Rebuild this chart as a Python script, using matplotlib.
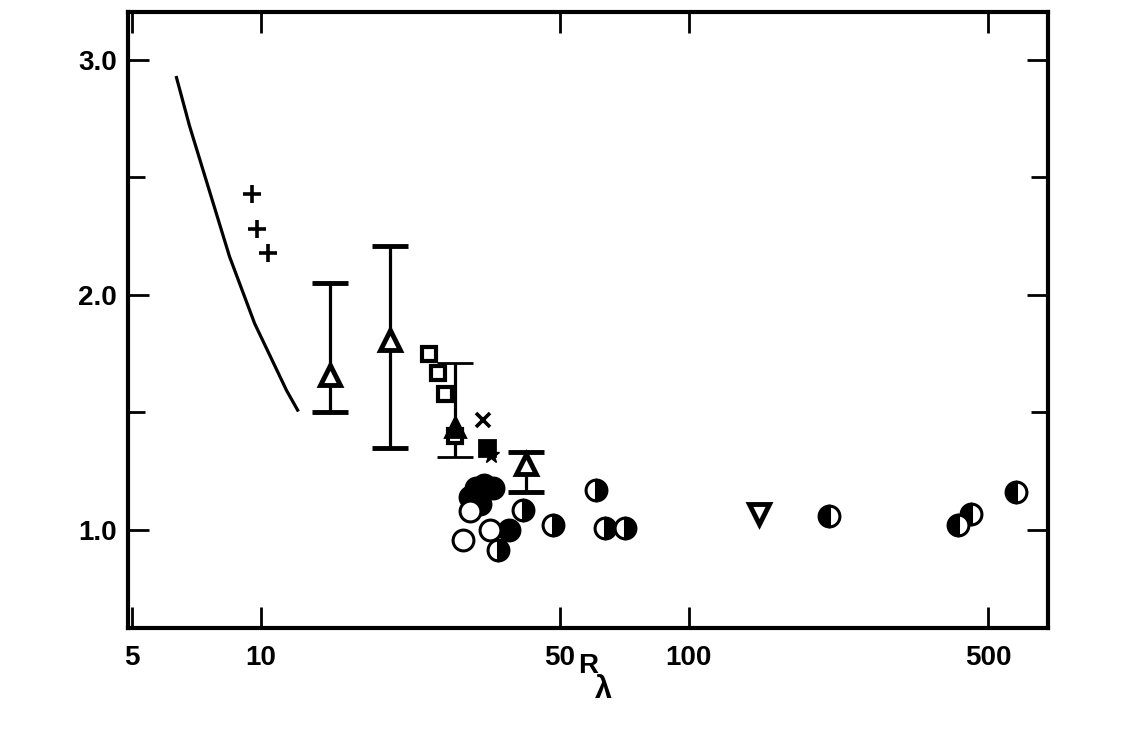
import matplotlib
matplotlib.use("Agg")
import matplotlib.pyplot as plt
from matplotlib.ticker import NullLocator

plt.rcParams['font.family'] = ['Liberation Sans', 'DejaVu Sans']
plt.rcParams['font.weight'] = 'bold'

# ---- data ----
curve_x = [6.36, 6.82, 7.60, 8.46, 9.68, 11.5, 12.2]
curve_y = [2.925, 2.72, 2.44, 2.163, 1.879, 1.593, 1.51]

plus_x = [9.53, 9.79, 10.38]
plus_y = [2.43, 2.28, 2.18]

tri_err_x = [14.5, 20.1, 41.6]
tri_err_y = [1.66, 1.81, 1.28]
tri_err_lo = [1.50, 1.35, 1.16]
tri_err_hi = [2.05, 2.21, 1.33]

tri_fill_x = [28.4]
tri_fill_y = [1.44]
tri_fill_lo = [1.31]
tri_fill_hi = [1.71]

square_x = [24.7, 25.9, 27.0, 28.4]
square_y = [1.75, 1.67, 1.58, 1.40]

cross_x = [33.0]
cross_y = [1.47]

fsquare_x = [33.7]
fsquare_y = [1.35]

star_x = [34.6]
star_y = [1.32]

filled_x = [30.8, 31.8, 33.3, 34.8, 32.6, 38.1]
filled_y = [1.14, 1.18, 1.19, 1.18, 1.11, 1.00]

open_x = [29.7, 34.3, 30.8]
open_y = [0.957, 1.00, 1.08]

halfR_x = [35.8, 41.0, 48.3, 60.6, 63.6, 70.8]
halfR_y = [0.913, 1.087, 1.02, 1.17, 1.01, 1.01]

halfL_x = [212, 425, 455, 581]
halfL_y = [1.06, 1.02, 1.07, 1.16]

down_x = [146]
down_y = [1.07]

x_ticks = [5, 10, 50, 100, 500]
x_ticklabels = ['5', '10', '50', '100', '500']
y_ticks = [1.0, 2.0, 3.0]
y_ticklabels = ['1.0', '2.0', '3.0']
y_minor = [1.5, 2.5]

# ---- figure ----
fig = plt.figure(figsize=(11.36, 7.39), dpi=100)
ax = fig.add_axes([128/1136, 1-628/739, 920/1136, 616/739])
ax.set_xscale('log')
ax.set_xlim(4.9, 690)
ax.set_ylim(0.583, 3.204)

ax.plot(curve_x, curve_y, '-', color='black', lw=2.3, solid_joinstyle='round')

ax.plot(plus_x, plus_y, '+', ls='none', color='black', ms=13, mew=2.6)

def err(y, lo, hi):
    return [[yy - l for yy, l in zip(y, lo)], [h - yy for yy, h in zip(y, hi)]]

ax.errorbar(tri_err_x, tri_err_y, yerr=err(tri_err_y, tri_err_lo, tri_err_hi),
            fmt='^', ms=15, mfc='white', mec='black', mew=3.5, color='black',
            ecolor='black', elinewidth=2.3, capsize=13, capthick=2.3)
ax.errorbar(tri_fill_x, tri_fill_y, yerr=err(tri_fill_y, tri_fill_lo, tri_fill_hi),
            fmt='^', ms=14, mfc='black', mec='black', mew=2, color='black',
            ecolor='black', elinewidth=2.3, capsize=13, capthick=2.3)

ax.plot(square_x, square_y, 's', ls='none', ms=10, mfc='white', mec='black', mew=3)
ax.plot(cross_x, cross_y, 'x', ls='none', ms=10, color='black', mew=2.6)
ax.plot(fsquare_x, fsquare_y, 's', ls='none', ms=12, mfc='black', mec='black', mew=2)
ax.plot(star_x, star_y, '*', ls='none', ms=12, color='black')

ax.plot(filled_x, filled_y, 'o', ls='none', ms=15, mfc='black', mec='black', mew=2.2)
ax.plot(open_x, open_y, 'o', ls='none', ms=15, mfc='white', mec='black', mew=2.2)
ax.plot(halfR_x, halfR_y, 'o', ls='none', ms=15, fillstyle='right',
        mfc='black', mfcalt='white', mec='black', mew=2.2)
ax.plot(halfL_x, halfL_y, 'o', ls='none', ms=15, fillstyle='left',
        mfc='black', mfcalt='white', mec='black', mew=2.2)
ax.plot(down_x, down_y, 'v', ls='none', ms=15, mfc='white', mec='black', mew=3.5)

# ---- axes styling ----
ax.set_xticks(x_ticks)
ax.set_xticklabels(x_ticklabels)
ax.xaxis.set_minor_locator(NullLocator())
ax.set_yticks(y_ticks)
ax.set_yticklabels(y_ticklabels)
ax.set_yticks(y_minor, minor=True)

for s in ax.spines.values():
    s.set_linewidth(3)
ax.tick_params(which='both', direction='in', top=True, right=True, width=2,
               labelsize=20, colors='black')
ax.tick_params(which='major', length=15)
ax.tick_params(which='minor', length=12)
ax.tick_params(axis='x', pad=12)
ax.tick_params(axis='y', pad=8)
for lab in ax.get_xticklabels() + ax.get_yticklabels():
    lab.set_fontweight('bold')

ax.set_xlabel('R', fontsize=20, fontweight='bold')
ax.xaxis.set_label_coords(0.500, -0.040)
fig.text(0.531, 0.066, 'λ', fontsize=22, fontweight='bold', ha='center', va='center')

fig.savefig('out.png', dpi=100)
